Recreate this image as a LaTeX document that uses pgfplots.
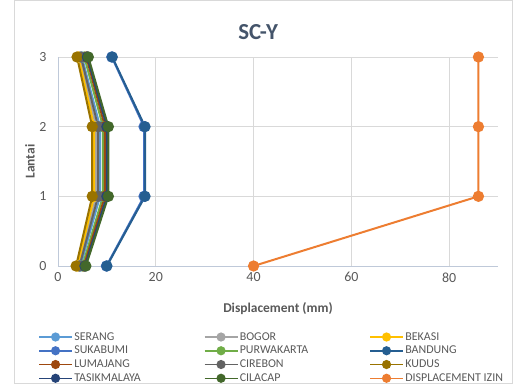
\documentclass[border=0pt]{standalone}
\usepackage{pgfplots}
\pgfplotsset{compat=1.18}
\usepackage{fontspec}
\setmainfont{Carlito}
\definecolor{cSerang}{HTML}{5B9BD5}
\definecolor{cBogor}{HTML}{A5A5A5}
\definecolor{cBekasi}{HTML}{FFC000}
\definecolor{cSukabumi}{HTML}{4472C4}
\definecolor{cPurwakarta}{HTML}{70AD47}
\definecolor{cBandung}{HTML}{255E91}
\definecolor{cLumajang}{HTML}{9E480E}
\definecolor{cCirebon}{HTML}{636363}
\definecolor{cKudus}{HTML}{997300}
\definecolor{cTasik}{HTML}{264478}
\definecolor{cCilacap}{HTML}{43682B}
\definecolor{cIzin}{HTML}{ED7D31}
\definecolor{gridc}{HTML}{D9D9D9}
\definecolor{axc}{HTML}{BFC9D9}
\definecolor{labc}{HTML}{595959}
\definecolor{titc}{HTML}{44546A}
\begin{document}
\begin{tikzpicture}
\path[use as bounding box] (-58bp,-119bp) rectangle (455bp,266bp);
\draw[draw=gridc, line width=0.75bp] (-44bp,-117bp) rectangle (454.5bp,265.5bp);
\begin{axis}[
  at={(0bp,0bp)}, anchor=south west,
  scale only axis, width=440bp, height=209bp,
  xmin=0, xmax=90, ymin=0, ymax=3,
  xtick={0,20,40,60,80}, ytick={0,1,2,3},
  grid=major, major grid style={draw=gridc, line width=0.75bp},
  axis x line*=bottom, axis y line*=left,
  axis line style={draw=axc, line width=0.9bp, -},
  major tick length=0pt,
  /pgf/number format/assume math mode=true,
  tick label style={font=\fontsize{14}{16}\selectfont, text=labc},
  xticklabel style={yshift=-3bp},
  yticklabel style={xshift=-8bp},
  xlabel={\textbf{Displacement (mm)}},
  ylabel={\textbf{Lantai}},
  label style={font=\fontsize{13.5}{16}\selectfont, text=labc},
  xlabel style={at={(axis description cs:0.5,-0.206)}, anchor=center},
  ylabel style={at={(axis description cs:-0.064,0.5)}, anchor=center},
  title={\textbf{SC-Y}},
  title style={at={(axis description cs:0.455,1.091)}, anchor=center, font=\fontsize{23}{26}\selectfont, text=titc},
  every axis plot/.append style={line width=2bp, mark=*, mark size=4.6bp},
  legend columns=3,
  legend cell align=left,
  legend style={draw=none, fill=none, at={(axis description cs:-0.052,-0.300)}, anchor=north west,
    font=\fontsize{12}{14}\selectfont, text=labc, row sep=1.5bp,
    nodes={inner sep=1.5bp}},
  legend image code/.code={\draw[mark repeat=2,mark phase=2,#1, line width=1.5bp, mark size=3.8bp] plot coordinates {(0bp,0bp) (16.5bp,0bp) (33bp,0bp)};},
]
\addplot[color=cSerang] coordinates {(4.6,0) (8.6,1) (8.6,2) (4.9,3)};
\addlegendentry{\makebox[128bp][l]{SERANG}}
\addplot[color=cBogor] coordinates {(4.2,0) (7.8,1) (7.8,2) (4.4,3)};
\addlegendentry{\makebox[128bp][l]{BOGOR}}
\addplot[color=cBekasi] coordinates {(4.0,0) (7.4,1) (7.4,2) (4.2,3)};
\addlegendentry{\makebox[100bp][l]{BEKASI}}
\addplot[color=cSukabumi] coordinates {(9.9,0) (17.6,1) (17.6,2) (11.0,3)};
\addlegendentry{\makebox[128bp][l]{SUKABUMI}}
\addplot[color=cPurwakarta] coordinates {(5.0,0) (9.2,1) (9.2,2) (5.4,3)};
\addlegendentry{\makebox[128bp][l]{PURWAKARTA}}
\addplot[color=cBandung] coordinates {(10.0,0) (17.8,1) (17.8,2) (11.1,3)};
\addlegendentry{\makebox[100bp][l]{BANDUNG}}
\addplot[color=cLumajang] coordinates {(5.3,0) (9.6,1) (9.6,2) (5.8,3)};
\addlegendentry{\makebox[128bp][l]{LUMAJANG}}
\addplot[color=cCirebon] coordinates {(4.4,0) (8.2,1) (8.2,2) (4.7,3)};
\addlegendentry{\makebox[128bp][l]{CIREBON}}
\addplot[color=cKudus] coordinates {(3.7,0) (7.0,1) (7.0,2) (3.9,3)};
\addlegendentry{\makebox[100bp][l]{KUDUS}}
\addplot[color=cTasik] coordinates {(5.5,0) (10.0,1) (10.0,2) (6.0,3)};
\addlegendentry{\makebox[128bp][l]{TASIKMALAYA}}
\addplot[color=cCilacap] coordinates {(5.7,0) (10.3,1) (10.3,2) (6.2,3)};
\addlegendentry{\makebox[128bp][l]{CILACAP}}
\addplot[color=cIzin] coordinates {(40,0) (86,1) (86,2) (86,3)};
\addlegendentry{\makebox[100bp][l]{DISPLACEMENT IZIN}}
\end{axis}
\end{tikzpicture}
\end{document}
